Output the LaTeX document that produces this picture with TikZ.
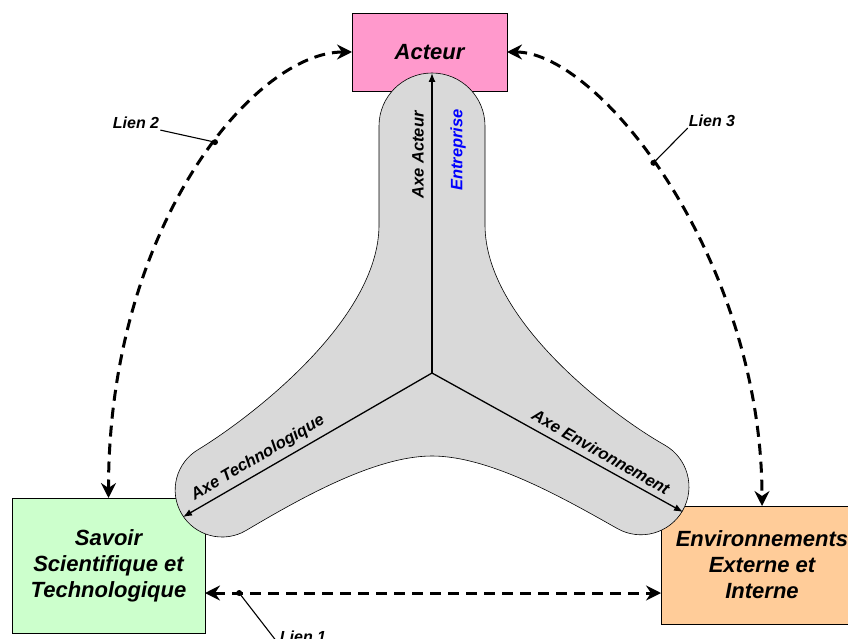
\documentclass[tikz,border=0pt]{standalone}
\usepackage{fontspec}
\setmainfont{Liberation Sans}
\usetikzlibrary{arrows.meta}
\definecolor{pinkbox}{RGB}{255,153,204}
\definecolor{greenbox}{RGB}{204,255,204}
\definecolor{orangebox}{RGB}{255,204,153}
\definecolor{blobgray}{RGB}{217,217,217}
\begin{document}
\begin{tikzpicture}[x=1pt,y=-1pt,
  box/.style={draw=black, line width=0.9pt, rectangle, inner sep=2pt, outer sep=0pt, align=center,
    font=\fontsize{22}{26}\selectfont\bfseries\itshape},
  axislbl/.style={font=\fontsize{16.5}{18}\selectfont\bfseries\itshape, inner sep=1pt},
  lienlbl/.style={font=\fontsize{16}{18}\selectfont\bfseries\itshape, inner sep=1pt},
  lien/.style={line width=3pt, dash pattern=on 11pt off 7pt,
    {Stealth[length=15pt,width=15pt,inset=5pt]}-{Stealth[length=15pt,width=15pt,inset=5pt]}},
  axisline/.style={line width=1.3pt, -{Latex[length=9pt,width=7pt]}},
  leader/.style={line width=1.1pt},
  blob/.style={draw=black, line width=0.6pt, fill=blobgray},
]
\useasboundingbox (0,0) rectangle (848,639);
\clip (0,0) rectangle (848,639);

% boxes
\node[box, fill=pinkbox, minimum width=155pt, minimum height=78pt] (act) at (429.5,52) {Acteur};
\node[box, fill=greenbox, minimum width=193pt, minimum height=135pt] (sav) at (108.5,565.5) {Savoir\\Scientifique et\\Technologique};
\node[box, fill=orangebox, minimum width=202pt, minimum height=118pt] (env) at (762,565) {Environnements\\Externe et\\Interne};

% grey three-armed shape
\draw[blob] (379,126) arc[start angle=180, end angle=360, radius=53]
  -- (485,225) .. controls (485,320) and (612.4,415.5) .. (664.6,445)
  arc[start angle=-60.5, end angle=119.5, radius=48]
  .. controls (565,499) and (490,456) .. (432,456)
  .. controls (374,456) and (297.7,500) .. (246,530.5)
  arc[start angle=59.5, end angle=239.5, radius=47]
  .. controls (250,418) and (379,320) .. (379,225) -- cycle;

% axes
\coordinate (O) at (432,373);
\coordinate (tA) at (432,73);
\coordinate (tT) at (183,517);
\coordinate (tE) at (683,512);
\draw[axisline] (O) -- (tA);
\draw[axisline] (O) -- (tT);
\draw[axisline] (O) -- (tE);

\node[axislbl, rotate=90] (axA) at (418,155) {Axe Acteur};
\node[axislbl, rotate=90, text=blue] (ent) at (458,150) {Entreprise};
\node[axislbl, rotate=30.5] (axT) at (258,458) {Axe Technologique};
\node[axislbl, rotate=-29.5] (axE) at (601,452) {Axe Environnement};

% links
\draw[lien] (act.west) .. controls (255,52) and (108.5,225) .. (sav.north)
  node[pos=0.43, coordinate] (d2) {};
\draw[lien] (act.east) .. controls (600,52) and (762,260) .. (env.north)
  node[pos=0.45, coordinate] (d3) {};
\coordinate (y1) at (430,593);
\draw[lien] (sav.east |- y1) -- (env.west |- y1)
  node[pos=0.075, coordinate] (d1) {};

\fill (d1) circle[radius=3];
\fill (d2) circle[radius=3];
\fill (d3) circle[radius=3];

\node[lienlbl] (l2) at (136,123) {Lien 2};
\node[lienlbl] (l3) at (712,121) {Lien 3};
\node[lienlbl] (l1) at (303,637) {Lien 1};
\draw[leader] (l2.south east) -- (d2);
\draw[leader] (l3.south west) -- (d3);
\draw[leader] (d1) -- (l1.south west);
\end{tikzpicture}
\end{document}
